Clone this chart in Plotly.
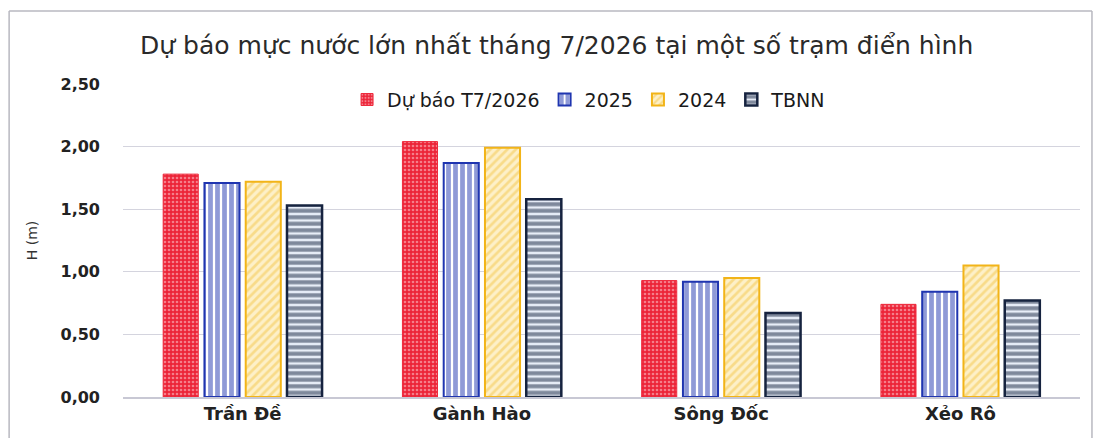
import plotly.graph_objects as go

# Stations and values (m)
stations = ["Trần Đề", "Gành Hào", "Sông Đốc", "Xẻo Rô"]
du_bao_t7_2026 = [1.78, 2.04, 0.93, 0.74]
nam_2025 = [1.71, 1.87, 0.92, 0.84]
nam_2024 = [1.72, 1.99, 0.95, 1.05]
tbnn = [1.53, 1.58, 0.67, 0.77]

y_ticks = [0, 0.5, 1.0, 1.5, 2.0, 2.5]
y_tick_labels = ["0,00", "0,50", "1,00", "1,50", "2,00", "2,50"]

fig = go.Figure()

fig.add_trace(go.Bar(
    x=stations, y=du_bao_t7_2026, name="Dự báo T7/2026",
    marker=dict(color="#ee2a3c", line=dict(color="#ee2a3c", width=1),
                pattern=dict(shape=".", fgcolor="#fdd8dc", bgcolor="#ec2438",
                             size=4, solidity=0.35)),
))
fig.add_trace(go.Bar(
    x=stations, y=nam_2025, name="2025",
    marker=dict(color="#1f35b0", line=dict(color="#1f35b0", width=2),
                pattern=dict(shape="|", fgcolor="#1f35b0", bgcolor="white",
                             size=7, solidity=0.68)),
))
fig.add_trace(go.Bar(
    x=stations, y=nam_2024, name="2024",
    marker=dict(color="#f2b418", line=dict(color="#f2b418", width=2),
                pattern=dict(shape="/", fgcolor="#f4c64a", bgcolor="#fdf0c8",
                             size=6, solidity=0.45)),
))
fig.add_trace(go.Bar(
    x=stations, y=tbnn, name="TBNN",
    marker=dict(color="#16233f", line=dict(color="#16233f", width=2.5),
                pattern=dict(shape="-", fgcolor="#16233f", bgcolor="#e8eef8",
                             size=6.5, solidity=0.62)),
))

# Scanned frame lines
frame = dict(type="line", xref="paper", yref="paper",
             line=dict(color="#b8b8c0", width=1.5))
fig.add_shape(frame, x0=-0.119, x1=-0.119, y0=1.233, y1=-0.2)
fig.add_shape(frame, x0=-0.119, x1=1.0125, y0=1.233, y1=1.233)
fig.add_shape(frame, x0=1.0125, x1=1.0125, y0=1.233, y1=-0.2)

fig.update_layout(
    width=1098, height=438,
    margin=dict(l=123, r=18, t=84, b=41),
    paper_bgcolor="white", plot_bgcolor="white",
    title=dict(text="Dự báo mực nước lớn nhất tháng 7/2026 tại một số trạm điển hình",
               x=0.507, xanchor="center", y=0.897, yanchor="middle",
               font=dict(family="DejaVu Sans", size=25, color="#2a2a2a")),
    barmode="group", bargap=0.31, bargroupgap=0.15,
    legend=dict(orientation="h", x=0.487, xanchor="center", y=0.95, yanchor="middle",
                font=dict(family="DejaVu Sans", size=19, color="#1a1a1a"),
                bgcolor="rgba(0,0,0,0)", itemwidth=30, traceorder="normal"),
    showlegend=True,
)

fig.update_xaxes(
    showgrid=False, showline=True, linecolor="#c8c8d4", linewidth=1.5,
    tickfont=dict(family="DejaVu Sans", size=18, color="#222222", weight="bold"),
)
fig.update_yaxes(
    range=[0, 2.5], tickvals=y_ticks, ticktext=y_tick_labels,
    showgrid=True, gridcolor="#d4d4de", gridwidth=1.2, zeroline=False,
    tickfont=dict(family="DejaVu Sans", size=16, color="#222222", weight="bold"),
    ticklabelstandoff=22,
    title=dict(text="H (m)", standoff=19,
               font=dict(family="DejaVu Sans", size=14, color="#333333")),
)

fig.write_html("out.html", config={"displayModeBar": False},
               post_script="document.body.style.margin='0';")
